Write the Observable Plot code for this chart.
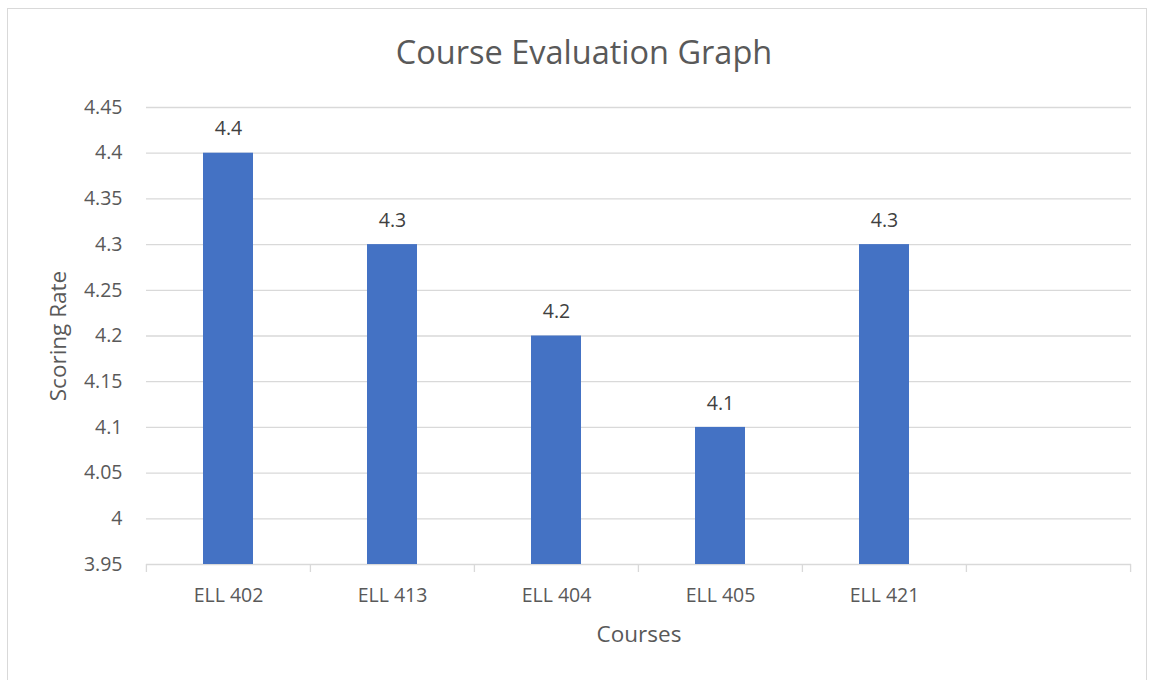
<!DOCTYPE html>
<html>
<head>
<meta charset="utf-8">
<script src="https://cdn.jsdelivr.net/npm/d3@7"></script>
<script src="https://cdn.jsdelivr.net/npm/@observablehq/plot@0.6"></script>
<style>
  html, body { margin: 0; padding: 0; background: #fff; }
  #wrap { position: relative; width: 1150px; height: 680px; overflow: hidden; }
  #border { position: absolute; left: 7px; top: 8px; width: 1140px; height: 680px; border: 1px solid #d9d9d9; box-sizing: border-box; pointer-events: none; }
  svg { position: absolute; left: 0; top: 0; }
</style>
</head>
<body>
<div id="wrap"><div id="border"></div></div>
<script>
const title = "Course Evaluation Graph";
const xLabel = "Courses";
const yLabel = "Scoring Rate";
const courses = ["ELL 402", "ELL 413", "ELL 404", "ELL 405", "ELL 421"];
const scores = [4.4, 4.3, 4.2, 4.1, 4.3];
const xDomain = [...courses, ""];
const yTicks = [3.95, 4, 4.05, 4.1, 4.15, 4.2, 4.25, 4.3, 4.35, 4.4, 4.45];

const data = courses.map((c, i) => ({course: c, score: scores[i]}));

const W = 1150, H = 680;
const mL = 146, mR = 19, mT = 107, mB = 116;
const halfStep = (W - mL - mR) / xDomain.length / 2;
const font = "'Open Sans', sans-serif";
const textColor = "#595959";
const yMin = yTicks[0], yMax = yTicks[yTicks.length - 1];

const chart = Plot.plot({
  width: W,
  height: H,
  marginLeft: mL,
  marginRight: mR,
  marginTop: mT,
  marginBottom: mB,
  style: {fontFamily: font, color: textColor, background: "transparent", overflow: "visible"},
  x: {domain: xDomain, paddingInner: 0.695, paddingOuter: 0.3475, label: null},
  y: {domain: [yMin, yMax], label: null},
  marks: [
    Plot.gridY(yTicks, {stroke: "#d9d9d9", strokeOpacity: 1, strokeWidth: 1.3}),
    Plot.axisY({ticks: yTicks, tickSize: 0, tickPadding: 24, fontSize: 19.5, fill: textColor,
      tickFormat: d => String(+d.toFixed(2)), label: null}),
    Plot.barY(data, {x: "course", y1: () => yMin, y2: "score", fill: "#4472C4"}),
    Plot.text(data, {x: "course", y: "score", text: d => String(d.score), dy: -24, fontSize: 19.5, fill: "#404040"}),
    Plot.axisX({ticks: xDomain, dx: -halfStep, tickSize: 8, text: null, stroke: "#d9d9d9", strokeWidth: 1.3, label: null}),
    Plot.axisX({ticks: [xDomain[xDomain.length - 1]], dx: halfStep, tickSize: 8, text: null, stroke: "#d9d9d9", strokeWidth: 1.3, label: null}),
    Plot.axisX({ticks: courses, tickSize: 0, tickPadding: 24, fontSize: 19.5, fill: textColor, label: null}),
    Plot.text([xLabel], {frameAnchor: "bottom", dy: 77, text: d => d, fontSize: 22.5, fill: textColor}),
    Plot.text([yLabel], {frameAnchor: "left", textAnchor: "middle", dx: -88, rotate: -90, text: d => d, fontSize: 22.5, fill: textColor}),
    Plot.text([title], {frameAnchor: "top", dy: -67, dx: -55, text: d => d, fontSize: 32.5, fill: textColor})
  ]
});
document.getElementById("wrap").prepend(chart);
</script>
</body>
</html>
